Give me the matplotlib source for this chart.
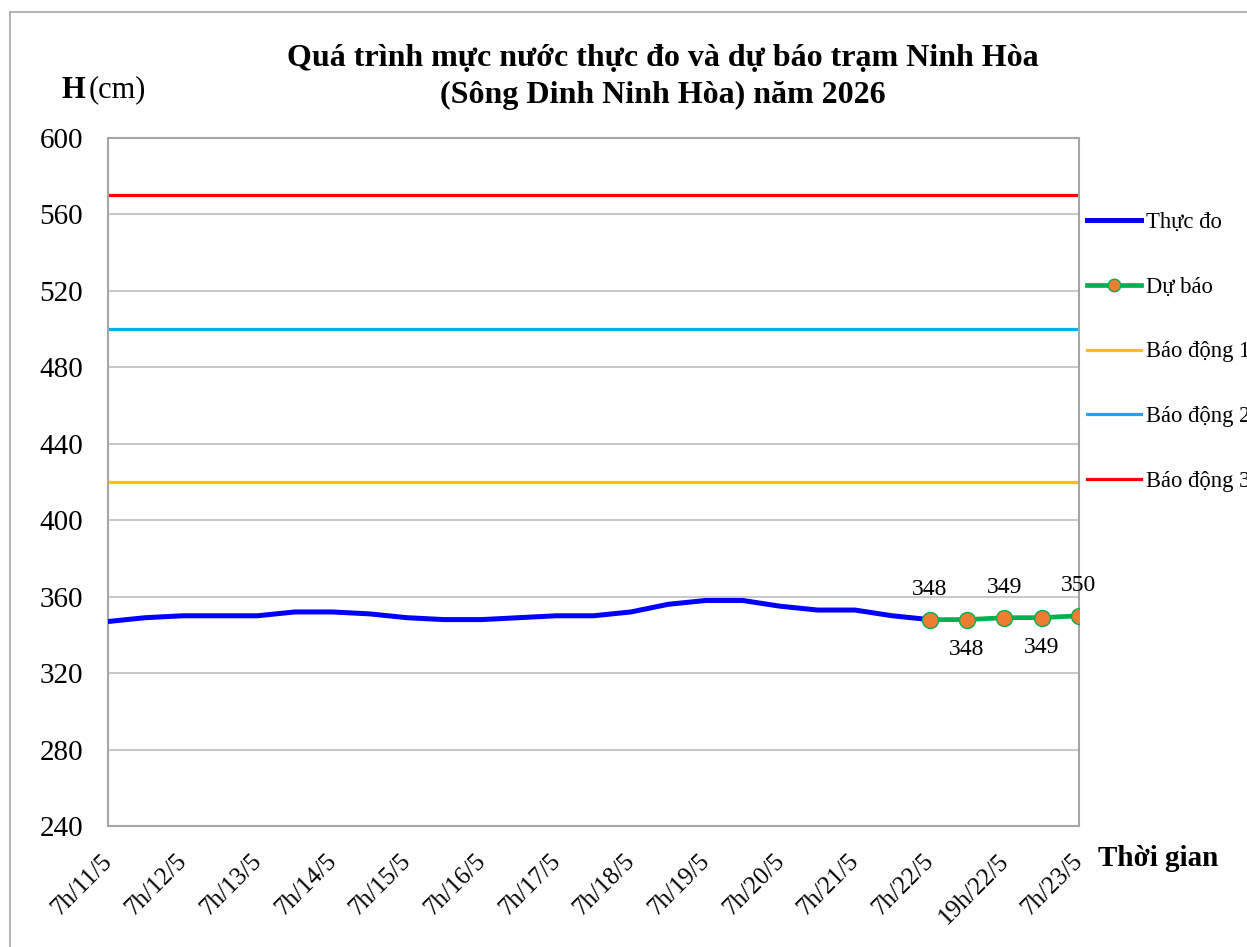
import matplotlib.pyplot as plt
from matplotlib.lines import Line2D

plt.rcParams['font.family'] = ['Liberation Serif', 'DejaVu Serif']

# observed every 12h from 7h/11/5 to 7h/22/5, forecast every 6h to 7h/23/5
observed = [347, 349, 350, 350, 350, 352, 352, 351, 349, 348, 348, 349,
            350, 350, 352, 356, 358, 358, 355, 353, 353, 350, 348]
forecast = [348, 348, 349, 349, 350]
tick_labels = ['7h/11/5', '7h/12/5', '7h/13/5', '7h/14/5', '7h/15/5', '7h/16/5',
               '7h/17/5', '7h/18/5', '7h/19/5', '7h/20/5', '7h/21/5', '7h/22/5',
               '19h/22/5', '7h/23/5']
alarm1, alarm2, alarm3 = 420, 500, 570

n_total = len(observed) + len(forecast) - 1
x_obs = list(range(len(observed)))
x_fc = list(range(len(observed) - 1, n_total))
x_ticks = list(range(0, n_total, 2))

fig = plt.figure(figsize=(12.47, 9.47), dpi=100)
ax = fig.add_axes([108 / 1247, 1 - 826 / 947, (1079 - 108) / 1247, (826 - 138) / 947])

ax.plot([0, n_total - 1], [alarm1] * 2, color='#FFC000', lw=2.3, zorder=2)
ax.plot([0, n_total - 1], [alarm2] * 2, color='#00B0F0', lw=2.3, zorder=2)
ax.plot([0, n_total - 1], [alarm3] * 2, color='#FF0000', lw=2.3, zorder=2)
ax.plot(x_obs, observed, color='#0000FF', lw=3.6, solid_joinstyle='round',
        solid_capstyle='round', zorder=3)
ax.plot(x_fc, forecast, color='#00B050', lw=3.4, marker='o', markersize=11.5,
        markerfacecolor='#ED7D31', markeredgecolor='#00B050', markeredgewidth=1,
        zorder=4)

for i, (x, v) in enumerate(zip(x_fc, forecast)):
    dy = 14 if i % 2 == 0 else -14
    ax.annotate(str(v), (x, v), xytext=(0, dy), textcoords='offset points',
                ha='center', va='bottom' if dy > 0 else 'top', fontsize=17)

ax.set_xlim(0, n_total - 1)
ax.set_ylim(240, 600)
ax.set_yticks(range(240, 601, 40))
ax.set_xticks(x_ticks)
ax.set_xticklabels([])
for x, lab in zip(x_ticks, tick_labels):
    ax.annotate(lab, (x, 0), xycoords=('data', 'axes fraction'), xytext=(-7, -24),
                textcoords='offset pixels', rotation=45, ha='right', va='top',
                rotation_mode='anchor', fontsize=18, annotation_clip=False)
ax.tick_params(axis='y', labelsize=21, length=0, pad=18)
ax.tick_params(axis='x', length=0)
ax.grid(axis='y', color='#BFBFBF', lw=1.2)
ax.set_axisbelow(True)
for s in ax.spines.values():
    s.set_color('#A6A6A6')
    s.set_linewidth(1.5)

fig.text(663 / 1247, 1 - 58 / 947, 'Quá trình mực nước thực đo và dự báo trạm Ninh Hòa',
         ha='center', va='center', fontsize=23, fontweight='bold')
fig.text(663 / 1247, 1 - 95 / 947, '(Sông Dinh Ninh Hòa) năm 2026',
         ha='center', va='center', fontsize=23, fontweight='bold')
fig.text(61 / 1247, 1 - 90 / 947, 'H', ha='left', va='center', fontsize=22,
         fontweight='bold')
fig.text(89 / 1247, 1 - 90 / 947, '(cm)', ha='left', va='center', fontsize=22)
fig.text(1098 / 1247, 1 - 858 / 947, 'Thời gian', ha='left', va='center',
         fontsize=21, fontweight='bold')

handles = [
    Line2D([], [], color='#0000FF', lw=3.6),
    Line2D([], [], color='#00B050', lw=3.4, marker='o', markersize=9,
           markerfacecolor='#ED7D31', markeredgecolor='#00B050'),
    Line2D([], [], color='#FFC000', lw=2.3),
    Line2D([], [], color='#00B0F0', lw=2.3),
    Line2D([], [], color='#FF0000', lw=2.3),
]
labels = ['Thực đo', 'Dự báo', 'Báo động 1', 'Báo động 2', 'Báo động 3']
fig.legend(handles, labels, loc='upper left',
           bbox_to_anchor=(1078 / 1247, 1 - 203 / 947), frameon=False,
           fontsize=16.3, handlelength=2.4, handletextpad=0.2, labelspacing=1.93,
           borderaxespad=0)

# outer chart border
fig.add_artist(Line2D([10 / 1247, 10 / 1247], [0, 1 - 12 / 947],
                      transform=fig.transFigure, color='#A6A6A6', lw=1.2))
fig.add_artist(Line2D([10 / 1247, 1], [1 - 12 / 947, 1 - 12 / 947],
                      transform=fig.transFigure, color='#A6A6A6', lw=1.2))

fig.savefig('out.png', dpi=100)
